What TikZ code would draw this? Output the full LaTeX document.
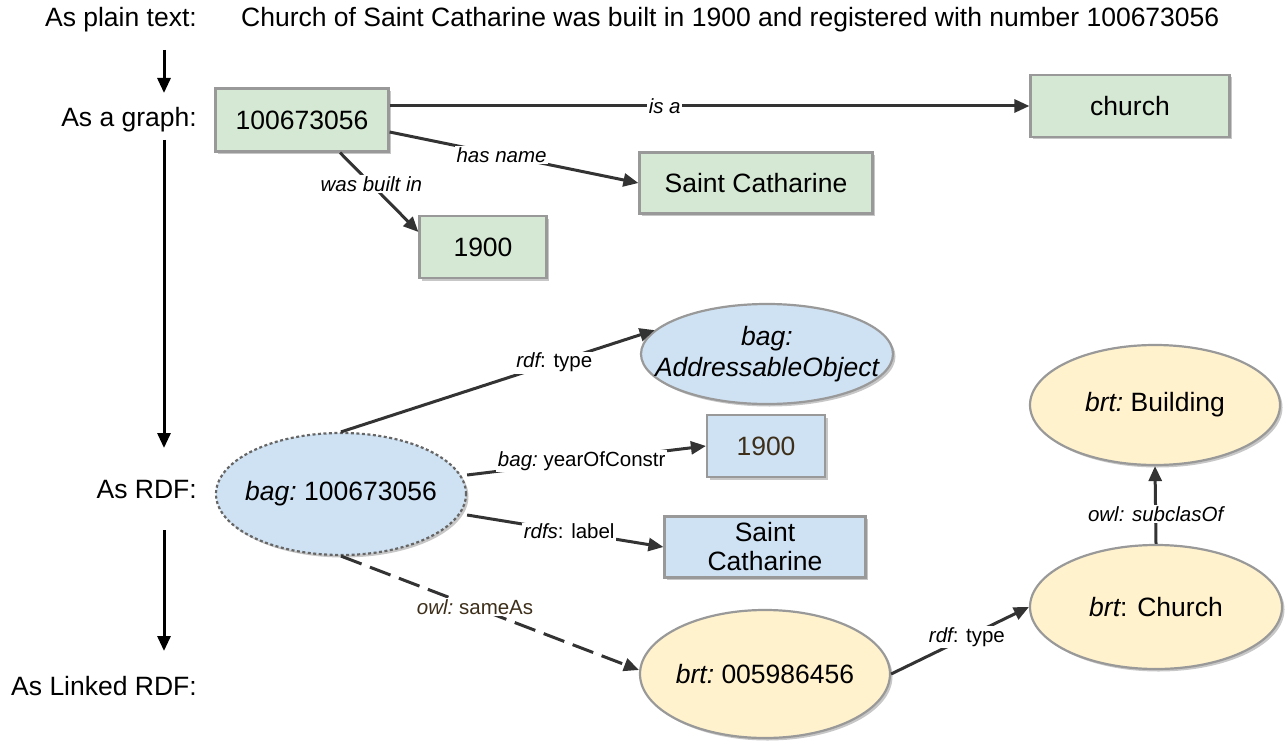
\documentclass[tikz,border=0pt]{standalone}
\usepackage{fontspec}
\setmainfont{Liberation Sans}
\usetikzlibrary{arrows.meta,shapes.geometric,shadows}
\definecolor{gfill}{HTML}{D5E8D4}
\definecolor{bfill}{HTML}{CFE2F3}
\definecolor{yfill}{HTML}{FFF2CC}
\definecolor{bord}{HTML}{999999}
\definecolor{edgec}{HTML}{333333}
\definecolor{brownt}{HTML}{3D2F1A}
\newcommand\mfont{\fontsize{26.5}{31}\selectfont}
\newcommand\lfont{\fontsize{20.5}{24}\selectfont}
\tikzset{
  shp/.style={draw=bord, line width=2.2pt, inner sep=0pt,
    drop shadow={shadow xshift=2.5pt, shadow yshift=-2.5pt, fill=black!22, opacity=1}},
  gbox/.style={shp, rectangle, fill=gfill, font=\mfont},
  bbox/.style={shp, rectangle, fill=bfill, font=\mfont, align=center},
  bell/.style={shp, ellipse, fill=bfill},
  yell/.style={shp, ellipse, fill=yfill},
  txt/.style={font=\mfont, inner sep=0pt},
  lbl/.style={font=\lfont, fill=white, inner sep=1.5pt, text=black},
  rel/.style={draw=edgec, line width=3pt, -{Triangle[length=15pt,width=13pt]}},
  flow/.style={draw=black, line width=3pt, -{Triangle[length=15pt,width=13pt]}},
}
\begin{document}
\begin{tikzpicture}[x=1pt,y=-1pt]
\useasboundingbox (0,0) rectangle (1287,746);
% left column
\node[txt, anchor=east] (l1) at (197,20) {As plain text:};
\node[txt, anchor=east] (l2) at (197,120) {As a graph:};
\node[txt, anchor=east] (l3) at (197,490) {As RDF:};
\node[txt, anchor=east] (l4) at (197,686) {As Linked RDF:};
\node[txt, anchor=west] (plain) at (241,20) {Church of Saint Catharine was built in 1900 and registered with number 100673056};
\coordinate (a1s) at (164,50); \coordinate (a1e) at (164,93);
\coordinate (a2s) at (164,140); \coordinate (a2e) at (164,448);
\coordinate (a3s) at (164,530); \coordinate (a3e) at (164,651);
\draw[flow] (a1s) -- (a1e);
\draw[flow] (a2s) -- (a2e);
\draw[flow] (a3s) -- (a3e);
% graph
\node[gbox, minimum width=173, minimum height=63] (g1) at (302,120) {100673056};
\node[gbox, minimum width=199, minimum height=62] (gc) at (1130,106) {church};
\node[gbox, minimum width=233, minimum height=61] (gs) at (756,183) {Saint Catharine};
\node[gbox, minimum width=127, minimum height=62] (gy) at (483,247) {1900};
\draw[rel] (g1.east |- gc) -- node[lbl, pos=0.43]{\itshape is a} (gc.west);
\draw[rel] ([yshift=-12pt]g1.east) -- node[lbl, pos=0.45]{\itshape has name} (gs.west);
\draw[rel] ([xshift=38pt]g1.south) -- node[lbl, pos=0.4]{\itshape was built in} ([yshift=15pt]gy.west);
% RDF
\node[bell, minimum width=252, minimum height=100,
  label={[font=\mfont, align=center]center:{\itshape bag:\\\itshape AddressableObject}}] (ao) at (767,354) {};
\node[bell, minimum width=250, minimum height=122, draw=black!60, dash pattern=on 3pt off 2.5pt,
  label={[font=\mfont]center:{\itshape bag:\upshape\ 100673056}}] (bag) at (341,494) {};
\node[bbox, minimum width=118, minimum height=62, text=brownt] (by) at (766,446) {1900};
\node[bbox, minimum width=201, minimum height=61] (bs) at (765,547) {Saint\\[-2pt]Catharine};
% Linked
\node[yell, minimum width=250, minimum height=128,
  label={[font=\mfont]center:{\itshape brt:\upshape\ 005986456}}] (brt) at (765,674) {};
\node[yell, minimum width=252, minimum height=124,
  label={[font=\mfont]center:{\itshape brt\upshape: Church}}] (ch) at (1156,607) {};
\node[yell, minimum width=250, minimum height=120,
  label={[font=\mfont]center:{\itshape brt:\upshape\ Building}}] (bd) at (1155,405) {};
% RDF edges
\draw[rel] (bag.north) -- node[lbl, pos=0.68]{\itshape rdf\upshape: type} (ao.168);
\draw[rel] ([yshift=19pt]bag.east) -- node[lbl, pos=0.48]{\itshape bag:\upshape\ yearOfConstr} (by.west);
\draw[rel] ([yshift=-21pt]bag.east) -- node[lbl, pos=0.52]{\itshape rdfs\upshape: label} (bs.west);
\draw[rel, dash pattern=on 22pt off 9pt] (bag.south) -- node[lbl, pos=0.45, text=brownt]{\itshape owl:\upshape\ sameAs} ([yshift=4pt]brt.west);
\draw[rel] (brt.east) -- node[lbl, pos=0.55]{\itshape rdf\upshape: type} (ch.west);
\draw[rel] (ch.north) -- node[lbl, pos=0.38]{\itshape owl: subclasOf} (bd.south);
\end{tikzpicture}
\end{document}
